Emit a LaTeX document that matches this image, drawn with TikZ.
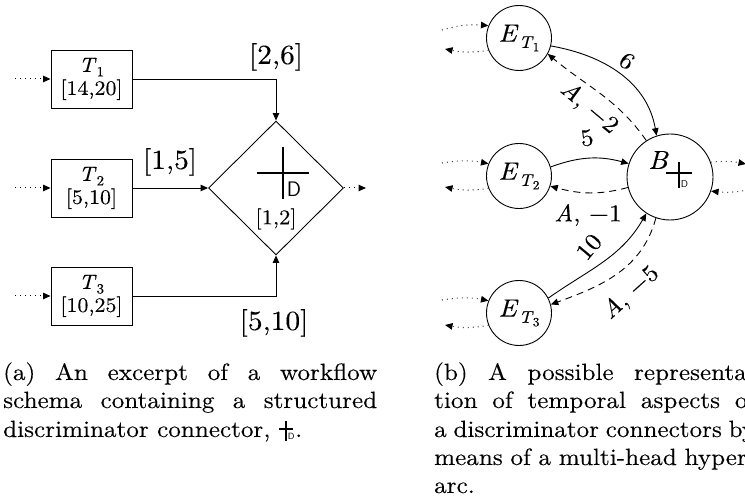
\documentclass[tikz,border=0pt]{standalone}
\usepackage{fontspec}
\setmainfont{lmroman10-regular.otf}[ItalicFont=lmroman10-italic.otf, FakeStretch=1.07, FakeBold=0.2]
\usetikzlibrary{arrows.meta,shapes.geometric}
\newcommand{\dsym}{\makebox[0.7em][l]{\rule[0.3em]{0.62em}{0.07em}\kern-0.345em\rule[-0.15em]{0.07em}{0.85em}\kern0.04em\raisebox{-0.1em}{\fontsize{9}{9}\selectfont\sffamily D}}}
\newcommand{\tsub}[3]{\textit{#1}\raisebox{-0.22em}{\fontsize{#2}{#2}\selectfont #3}}
\newcommand{\ET}[1]{\textit{E}\kern0.02em\raisebox{-0.25em}{\fontsize{17}{17}\selectfont\textit{T}\kern-0.05em\raisebox{-0.2em}{\fontsize{12.5}{12.5}\selectfont #1}}}
\begin{document}
\begin{tikzpicture}[x=1pt,y=1pt,
  tip/.style={-{Triangle[length=7.5pt,width=6.5pt]}},
  solid line/.style={line width=0.9pt},
  dots/.style={line width=1pt, dash pattern=on 0.8pt off 4.2pt},
  dashline/.style={line width=0.9pt, dash pattern=on 7pt off 5pt},
  box/.style={draw, line width=0.9pt, minimum width=81pt, minimum height=58pt, inner sep=0pt, align=center, font=\fontsize{20.5}{23}\selectfont},
  dia/.style={draw, diamond, line width=0.9pt, minimum width=135pt, minimum height=134pt, inner sep=0pt},
  biglab/.style={inner sep=0pt, font=\fontsize{27.5}{27.5}\selectfont},
  ecirc/.style={draw, circle, line width=0.9pt, minimum size=65pt, inner sep=0pt, font=\fontsize{25}{25}\selectfont},
  bcirc/.style={draw, circle, line width=0.9pt, minimum size=86pt, inner sep=0pt},
  rlab/.style={inner sep=0pt, font=\fontsize{24}{24}\selectfont},
  bar/.style={line width=2.2pt},
  captext/.style={anchor=base west, inner sep=0pt, font=\fontsize{23.5}{28}\selectfont}
]
\useasboundingbox (0,0) rectangle (745,502);
\clip (0,0) rectangle (745,502);

% ---------- (a) ----------
\node[box] (t1) at (91.5,423) {\tsub{T}{14}{1}\\{[14,20]}};
\node[box] (t2) at (91.5,314) {\tsub{T}{14}{2}\\{[5,10]}};
\node[box] (t3) at (91.5,206) {\tsub{T}{14}{3}\\{[10,25]}};
\node[dia] (d) at (276,314) {};

\coordinate (s1) at (15,423);
\coordinate (s2) at (15,314);
\coordinate (s3) at (15,206);
\coordinate (o) at (366,314);
\draw[dots,tip] (s1) -- (t1);
\draw[dots,tip] (s2) -- (t2);
\draw[dots,tip] (s3) -- (t3);
\draw[solid line,tip] (t1.east) -| (d.north);
\draw[solid line,tip] (t2.east) -- (d.west);
\draw[solid line,tip] (t3.east) -| (d.south);
\draw[dots,tip] (d.east) -- (o);

\draw[bar] (257,329) -- (309,329);
\draw[bar] (283,355) -- (283,303);
\node[inner sep=0pt, font=\fontsize{21}{21}\sffamily] (dD) at (294,312.5) {D};
\node[inner sep=0pt, font=\fontsize{21}{21}\selectfont] (dint) at (276,283) {[1,2]};

\node[biglab] (l26) at (276,445) {[2,6]};
\node[biglab] (l15) at (170,340) {[1,5]};
\node[biglab] (l510) at (274,179) {[5,10]};

% ---------- (b) ----------
\node[ecirc] (e1) at (519,464) {\ET{1}};
\node[ecirc] (e2) at (519,326) {\ET{2}};
\node[ecirc] (e3) at (519,189) {\ET{3}};
\node[bcirc] (b) at (670,325) {};
\node[inner sep=0pt, font=\fontsize{26}{26}\selectfont\itshape] (bl) at (658,342) {B};
\draw[bar] (666,329) -- (692,329);
\draw[bar] (679,340) -- (679,314);
\node[inner sep=0pt, font=\fontsize{10}{10}\sffamily] (bD) at (684.5,318) {D};

\draw[solid line,tip] (e1.-14) to[out=-10,in=100] (b.108);
\draw[dashline,tip] (b.123) to[out=125,in=-40] (e1.-29);
\draw[solid line,tip] (e2.16) to[out=20,in=165] (b.162);
\draw[dashline,tip] (b.194) to[out=195,in=-15] (e2.-18);
\draw[solid line,tip] (e3.27) to[out=35,in=240] (b.237);
\draw[dashline,tip] (b.251) to[out=255,in=20] (e3.15);

\node[rlab, rotate=-35] (l6) at (627,441) {6};
\node[rlab, rotate=-40] (la2) at (589,394) {\textit{A}, −2};
\node[rlab, rotate=8] (l5) at (587,364) {5};
\node[rlab] (la1) at (588,287) {\textit{A}, −1};
\node[rlab, rotate=50] (l10) at (589,255) {10};
\node[rlab, rotate=42] (la5) at (631,209) {\textit{A}, −5};

% loops
\coordinate (i1) at (442,472);
\coordinate (u1) at (445,453);
\coordinate (i2) at (442,339);
\coordinate (u2) at (445,315);
\coordinate (i3) at (442,202);
\coordinate (u3) at (445,177);
\draw[dots,tip] (i1) to[bend left=10] (e1.158);
\draw[dots,tip] (e1.202) to[bend left=10] (u1);
\draw[dots,tip] (i2) to[bend left=10] (e2.158);
\draw[dots,tip] (e2.202) to[bend left=10] (u2);
\draw[dots,tip] (i3) to[bend left=10] (e3.158);
\draw[dots,tip] (e3.202) to[bend left=10] (u3);
\coordinate (bo) at (746,338);
\coordinate (bi) at (748,312);
\draw[dots,tip] (b.20) to[bend left=8] (bo);
\draw[dots,tip] (bi) to[bend left=8] (b.-19);

% ---------- captions ----------
\node[captext] (ca1) at (3,122) {\makebox[374pt][s]{(a) An excerpt of a workflow}};
\node[captext] (ca2) at (3,94) {\makebox[374pt][s]{schema containing a structured}};
\node[captext] (ca3) at (3,65) {discriminator connector, \dsym.};
\node[captext] (cb1) at (434,122) {\makebox[321pt][s]{(b) A possible representa-}};
\node[captext] (cb2) at (434,94) {\makebox[321pt][s]{tion of temporal aspects of}};
\node[captext] (cb3) at (434,65) {\makebox[321pt][s]{a discriminator connectors by}};
\node[captext] (cb4) at (434,37) {\makebox[321pt][s]{means of a multi-head hyper-}};
\node[captext] (cb5) at (434,9) {arc.};
\end{tikzpicture}
\end{document}
